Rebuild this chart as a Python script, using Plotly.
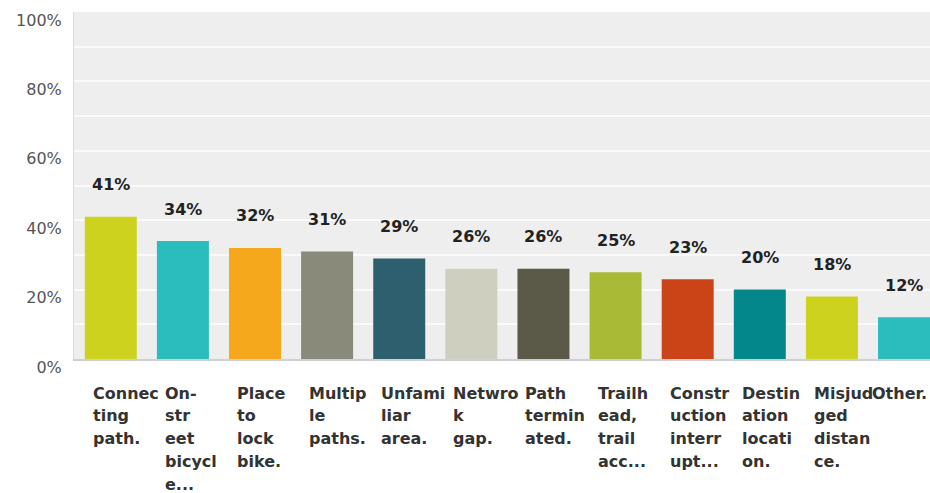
import plotly.graph_objects as go

categories = ["Connecting path.", "On-street bicycle...", "Place to lock bike.", "Multiple paths.",
              "Unfamiliar area.", "Netwrok gap.", "Path terminated.", "Trailhead, trail acc...",
              "Construction interrupt...", "Destination location.", "Misjudged distance.", "Other."]
label_lines = [["Connec", "ting", "path."], ["On-", "str", "eet", "bicycl", "e..."],
               ["Place", "to", "lock", "bike."], ["Multip", "le", "paths."],
               ["Unfami", "liar", "area."], ["Netwro", "k", "gap."],
               ["Path", "termin", "ated."], ["Trailh", "ead,", "trail", "acc..."],
               ["Constr", "uction", "interr", "upt..."], ["Destin", "ation", "locati", "on."],
               ["Misjud", "ged", "distan", "ce."], ["Other."]]
values = [41, 34, 32, 31, 29, 26, 26, 25, 23, 20, 18, 12]
colors = ["#cdd21f", "#2bbcbd", "#f5a81c", "#898a7a", "#2d5f6e", "#cfcfc0",
          "#5b5a48", "#a8ba36", "#cb4418", "#03878b", "#cdd21f", "#2bbcbd"]
y_ticks = [0, 20, 40, 60, 80, 100]
y_tick_labels = ["0%", "20%", "40%", "60%", "80%", "100%"]

FONT = "DejaVu Sans"
LINE_GAP = 22.8

fig = go.Figure(go.Bar(
    x=categories, y=values, marker=dict(color=colors, line=dict(width=0)),
    hoverinfo="skip",
))

annotations = []
for cat, v in zip(categories, values):
    annotations.append(dict(
        x=cat, y=v, xref="x", yref="y", text=f"<b>{v}%</b>", showarrow=False,
        yanchor="middle", yshift=32, font=dict(family=FONT, size=16, color="#222222"),
    ))
n = len(categories)
for i, (cat, lines) in enumerate(zip(categories, label_lines)):
    last = i == n - 1
    for j, line in enumerate(lines):
        ann = dict(
            y=0, yref="paper", text=f"<b>{line}</b>", showarrow=False,
            yanchor="middle", yshift=-(34 + LINE_GAP * j),
            font=dict(family=FONT, size=16, color="#333333"),
        )
        if last:
            ann.update(x=1, xref="paper", xanchor="right", xshift=-1)
        else:
            ann.update(x=cat, xref="x", xanchor="left", xshift=-20)
        annotations.append(ann)

fig.update_layout(
    width=930, height=493,
    margin=dict(l=74, r=0, t=12, b=134),
    paper_bgcolor="white", plot_bgcolor="#eeeeee",
    bargap=0.279, showlegend=False,
    font=dict(family=FONT),
    annotations=annotations,
    xaxis=dict(
        type="category", range=[-0.51, 11.36], showticklabels=False, showgrid=False,
        showline=True, linecolor="#d0d0d4", linewidth=1.5, fixedrange=True,
    ),
    yaxis=dict(
        range=[0, 100.01], tickvals=y_ticks, ticktext=y_tick_labels,
        showgrid=True, gridcolor="#fafafa", gridwidth=1.5,
        minor=dict(dtick=10, showgrid=True, gridcolor="#fafafa", gridwidth=1.5),
        ticks="outside", ticklen=8, tickcolor="rgba(0,0,0,0)",
        ticklabelshift=8,
        tickfont=dict(family=FONT, size=16, color="#555555"),
        showline=True, linecolor="#dcdcdc", linewidth=1, zeroline=False, fixedrange=True,
    ),
)

fig.write_html("out.html", config={"displayModeBar": False},
               post_script="document.body.style.margin='0';")
